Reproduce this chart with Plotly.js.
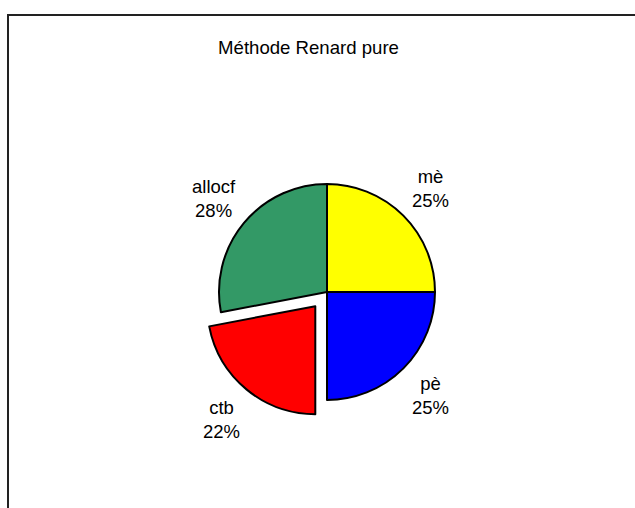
<!DOCTYPE html>
<html>
<head>
<meta charset="utf-8">
<script src="https://cdn.plot.ly/plotly-3.0.1.min.js"></script>
<style>html,body{margin:0;padding:0;background:#fff;}#chart{width:635px;height:508px;}</style>
</head>
<body>
<div id="chart"></div>
<script>
var categories = ["mè", "pè", "ctb", "allocf"];
var values = [25, 25, 22, 28];
var sliceColors = ["#FFFF00", "#0000FF", "#FF0000", "#339966"];
var pulls = [0, 0, 0.17, 0];
var chartTitle = "Méthode Renard pure";

var W = 635, H = 508;
var cx = 327, cy = 292, R = 108;
var maxPull = Math.max.apply(null, pulls);
var half = R * (1 + maxPull);
var FONT = "Liberation Sans, Arial, sans-serif";

var trace = {
  type: "pie",
  labels: categories,
  values: values,
  sort: false,
  direction: "clockwise",
  rotation: 0,
  pull: pulls,
  marker: {colors: sliceColors, line: {color: "#000000", width: 2}},
  textinfo: "none",
  hoverinfo: "none",
  showlegend: false,
  domain: {x: [(cx - half) / W, (cx + half) / W], y: [1 - (cy + half) / H, 1 - (cy - half) / H]}
};

// data labels placed outside each slice, along its mid-angle
var total = values.reduce(function (a, b) { return a + b; }, 0);
var annotations = [];
var cum = 0;
for (var i = 0; i < values.length; i++) {
  var frac = values[i] / total;
  var mid = Math.PI / 2 - 2 * Math.PI * (cum + frac / 2);
  cum += frac;
  var rr = R * 1.36 + pulls[i] * R;
  annotations.push({
    xref: "paper", yref: "paper",
    x: (cx + rr * Math.cos(mid)) / W,
    y: 1 - (cy - rr * Math.sin(mid)) / H,
    xanchor: "center", yanchor: "middle",
    showarrow: false,
    text: categories[i] + "<br>" + Math.round(frac * 100) + "%",
    font: {family: FONT, size: 18.5, color: "#000000"}
  });
}

var layout = {
  width: W, height: H,
  margin: {l: 0, r: 0, t: 0, b: 0},
  paper_bgcolor: "#ffffff",
  showlegend: false,
  font: {family: FONT, size: 18, color: "#000000"},
  title: {text: chartTitle, x: 308.5 / W, xanchor: "center", y: 1 - 47 / H, yanchor: "middle", xref: "paper", yref: "paper",
          font: {family: FONT, size: 18.6, color: "#000000"}},
  annotations: annotations,
  shapes: [{type: "rect", xref: "paper", yref: "paper", x0: 8 / W, x1: 1.2, y0: -0.2, y1: 1 - 15 / H,
            line: {color: "#222222", width: 2}, fillcolor: "rgba(0,0,0,0)", layer: "below"}]
};

Plotly.newPlot("chart", [trace], layout, {displayModeBar: false, staticPlot: true});
</script>
</body>
</html>
